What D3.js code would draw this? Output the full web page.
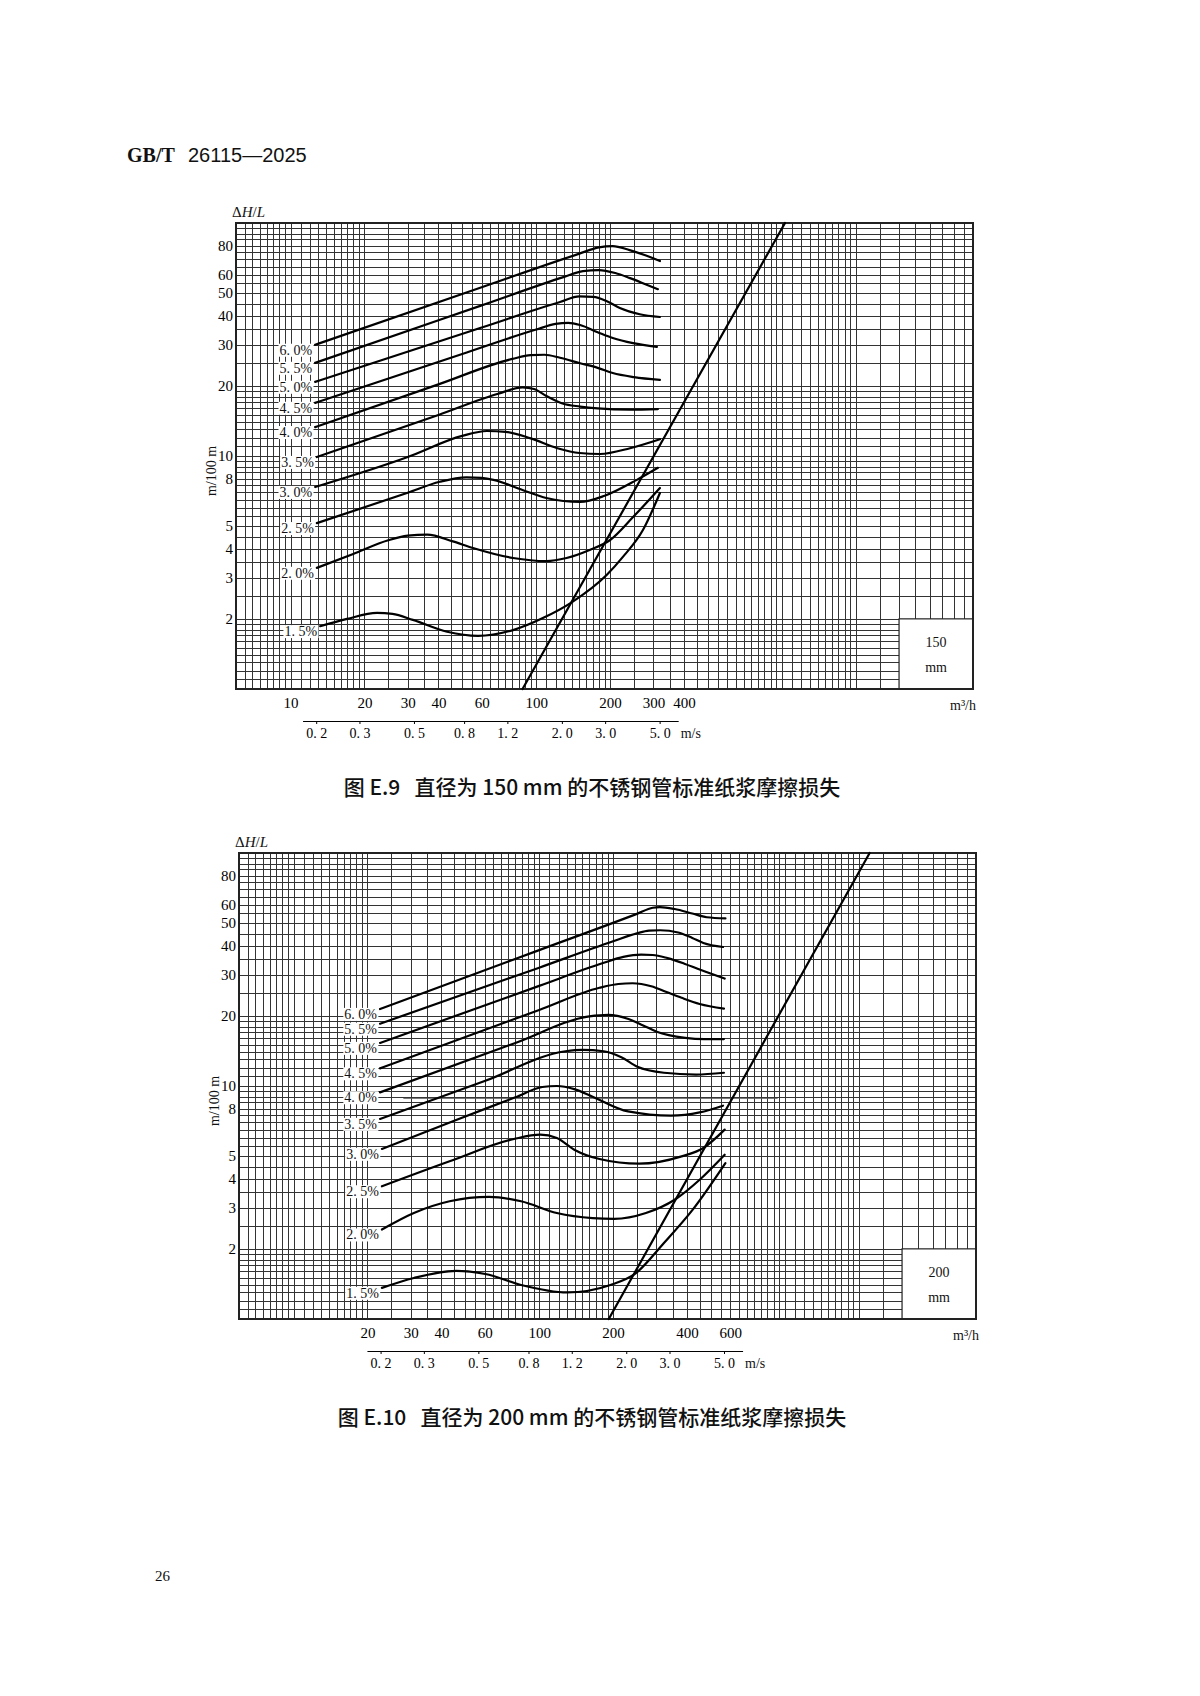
<!DOCTYPE html>
<html>
<meta http-equiv="content-type" content="text/html; charset=utf-8" />
<head>
    <title>不锈钢管标准纸浆摩擦损失</title>
</head>

<style>
body { margin: 0; background: #fff; }
.grid line { stroke: #333; stroke-width: 1; shape-rendering: crispEdges; }
.frame { fill: none; stroke: #222; stroke-width: 1.2; shape-rendering: crispEdges; }
.curve { fill: none; stroke: #000; stroke-width: 2.2; stroke-linejoin: round; stroke-linecap: round; }
.serif { font-family: "Liberation Serif", "DejaVu Serif", serif; fill: #111; }
</style>

<svg class="page" width="1200" height="1696"></svg>
<script src="https://d3js.org/d3.v7.min.js"></script>

<script type="text/javascript">
// ---- data ----
var flowDomain = [6, 6000];          // m3/h
var headDomain = [1, 100];           // m/100 m
var concentrations = [6.0, 5.5, 5.0, 4.5, 4.0, 3.5, 3.0, 2.5, 2.0, 1.5];
var headTickLabels = [2, 3, 4, 5, 8, 10, 20, 30, 40, 50, 60, 80];
var velocityTicks = [0.2, 0.3, 0.5, 0.8, 1.2, 2.0, 3.0, 5.0];
var velocityExtent = [0.176, 5.95];  // m/s, length of the velocity scale bar
var gridSteps = [[1, 2, 0.1], [2, 10, 0.5]]; // log paper: per decade from, to, step

// E.9  150 mm
var flowTicks150 = [10, 20, 30, 40, 60, 100, 200, 300, 400];
var curves150 = [
  [[12.6,30],[60,53],[150,73.9],[180,78.6],[205,79.6],[240,76.5],[280,72.5],[319,68.7]],
  [[12.6,25.1],[60,44.3],[130,58.7],[155,62.2],[180,62.8],[210,61],[241,58],[280,54.5],[313,52]],
  [[12.6,20.8],[60,35.6],[125,45.8],[150,48.4],[171,48.2],[195,46],[219,43.2],[264,40.6],[319,39.5]],
  [[12.6,16.9],[50,27.4],[100,34.9],[120,36.9],[135,37.3],[151,36.5],[178,34],[205,32.1],[248,30.5],[310,29.4]],
  [[12.6,13.3],[40,20.3],[80,26.1],[95,27.1],[108,27.2],[125,26.4],[151,25],[178,23.9],[205,22.7],[250,21.8],[319,21.2]],
  [[12.8,9.9],[40,15.0],[70,18.5],[88,19.7],[98,19.4],[110,18.1],[128,16.8],[151,16.3],[178,16.0],[240,15.8],[313,15.9]],
  [[12.6,7.36],[30,9.9],[50,12.2],[63,12.8],[75,12.7],[95,11.9],[122,10.8],[150,10.3],[182,10.2],[241,10.8],[319,11.8]],
  [[12.8,5.15],[30,6.95],[40.5,7.75],[52,8.1],[60,8.05],[67,7.9],[88,7.15],[110,6.6],[151,6.35],[190,6.75],[257,7.9],[313,8.9]],
  [[12.8,3.31],[18,3.8],[25,4.35],[30,4.55],[36,4.6],[45.8,4.3],[55.3,4.03],[80.5,3.65],[110,3.54],[133,3.65],[165,3.95],[200,4.36],[248,5.47],[319,7.29]],
  [[13.2,1.86],[17,2.0],[22.5,2.12],[26,2.1],[31.5,1.98],[43.4,1.76],[58,1.69],[80.5,1.79],[107,2.02],[140,2.36],[194,3.09],[225,3.68],[272,4.81],[319,6.94]]
];
var limitLine150 = [[88, 1], [1030, 100]];

// E.10  200 mm
var flowTicks200 = [20, 30, 40, 60, 100, 200, 400, 600];
var curves200 = [
  [[22.5,21.4],[100,38.3],[250,54.8],[290,58.2],[310,58.6],[356,57.5],[420,55],[481,53],[573,52.4]],
  [[22.5,18.5],[100,32.2],[200,41.8],[250,45.2],[280,46.4],[311,46.6],[368,45.6],[420,43.2],[466,41.1],[560,39.5]],
  [[22.5,15.3],[100,26.9],[182,33.7],[220,35.8],[260,36.6],[290,36.5],[333,35.4],[390,33.5],[450,31.6],[569,28.9]],
  [[22.5,11.9],[100,21.2],[176,26.4],[210,27.4],[240,27.6],[286,26.8],[330,25.3],[380,23.9],[450,22.5],[565,21.5]],
  [[22.5,9.39],[80,15.3],[160,19.9],[191,20.2],[231,19.4],[265,18.2],[301,17.1],[393,16.1],[470,15.9],[565,15.9]],
  [[22.5,7.22],[60,10.5],[128,14.1],[150,14.3],[183,14.1],[216,13.3],[251,12.1],[322,11.4],[435,11.2],[565,11.4]],
  [[22.9,5.37],[46.2,7.17],[80,8.94],[103,9.9],[118,10.0],[139,9.7],[165,9.0],[230,7.78],[344,7.46],[450,7.7],[560,8.23]],
  [[22.9,3.71],[43.2,4.75],[78.9,5.92],[101,6.18],[118,5.98],[139,5.33],[176,4.86],[255,4.64],[380,4.99],[466,5.42],[569,6.5]],
  [[22.9,2.42],[30.9,2.85],[43.2,3.2],[62.5,3.34],[84.4,3.2],[118,2.85],[165,2.71],[202,2.69],[272,2.85],[356,3.25],[450,3.96],[569,5.07]],
  [[22.9,1.36],[30.9,1.5],[46,1.61],[60.4,1.56],[84.4,1.4],[130,1.3],[195,1.4],[247,1.57],[322,2.12],[421,2.94],[573,4.67]]
];
var limitLine200 = [[192, 1], [2214, 100]];
var strayLine200 = [[28, 8.85], [935, 8.85]]; // faint printing artefact in the scan

// ---- layout ----
var width = 737, height = 466;
var charts = [
  {left: 236, top: 223, flowTicks: flowTicks150, curves: curves150, limit: limitLine150, stray: null,
   diameter: 0.150, sizeLabel: "150", caption: "图 E.9   直径为 150 mm 的不锈钢管标准纸浆摩擦损失", captionY: 795},
  {left: 239, top: 853, flowTicks: flowTicks200, curves: curves200, limit: limitLine200, stray: strayLine200,
   diameter: 0.200, sizeLabel: "200", caption: "图 E.10   直径为 200 mm 的不锈钢管标准纸浆摩擦损失", captionY: 1425}
];

var svg = d3.select(".page");

function gridValues(domain) {
  var vals = [];
  for (var d = Math.pow(10, Math.floor(Math.log10(domain[0]))); d < domain[1]; d *= 10) {
    gridSteps.forEach(function(s) {
      var n = Math.round((s[1] - s[0]) / s[2]);
      for (var k = 0; k <= n; k++) {
        var v = +(d * (s[0] + k * s[2])).toPrecision(6);
        if (v >= domain[0] && v <= domain[1] && vals.indexOf(v) < 0) vals.push(v);
      }
    });
  }
  return vals;
}

function pct(c) { return c.toFixed(1).replace(".", ". ") + "%"; }

charts.forEach(function(cfg) {
  var x = d3.scaleLog().domain(flowDomain).range([0, width]);
  var y = d3.scaleLog().domain(headDomain).range([height, 0]);

  var chart = svg.append("g")
    .attr("transform", "translate(" + cfg.left + "," + cfg.top + ")");

  // log-log paper
  chart.append("g")
    .attr("class", "grid")
    .attr("transform", "translate(0," + height + ")")
    .call(d3.axisBottom(x).tickValues(gridValues(flowDomain)).tickSize(-height).tickFormat(""))
    .call(function(g) { g.select(".domain").remove(); });
  chart.append("g")
    .attr("class", "grid")
    .call(d3.axisLeft(y).tickValues(gridValues(headDomain)).tickSize(-width).tickFormat(""))
    .call(function(g) { g.select(".domain").remove(); });

  // diameter box in the lower right corner
  var bx = x(3000), by = y(2);
  chart.append("rect")
    .attr("x", bx).attr("y", by)
    .attr("width", width - bx).attr("height", height - by)
    .attr("fill", "#fff").attr("stroke", "#222").attr("stroke-width", 1.2);
  chart.append("text").attr("class", "serif")
    .attr("x", (bx + width) / 2).attr("y", height - 47).attr("dy", "0.35em")
    .attr("text-anchor", "middle").attr("font-size", 14)
    .text(cfg.sizeLabel);
  chart.append("text").attr("class", "serif")
    .attr("x", (bx + width) / 2).attr("y", height - 22).attr("dy", "0.35em")
    .attr("text-anchor", "middle").attr("font-size", 14)
    .text("mm");

  chart.append("rect")
    .attr("class", "frame")
    .attr("width", width).attr("height", height);

  // axis numbers
  chart.append("g")
    .attr("transform", "translate(0," + height + ")")
    .call(d3.axisBottom(x).tickValues(cfg.flowTicks).tickSize(0).tickPadding(8).tickFormat(d3.format("d")))
    .call(function(g) { g.select(".domain").remove(); })
    .attr("font-family", "Liberation Serif, serif").attr("font-size", 15);
  chart.append("g")
    .call(d3.axisLeft(y).tickValues(headTickLabels).tickSize(0).tickPadding(3).tickFormat(d3.format("d")))
    .call(function(g) { g.select(".domain").remove(); })
    .attr("font-family", "Liberation Serif, serif").attr("font-size", 15);

  // velocity bar under the flow axis
  var area = Math.PI * cfg.diameter * cfg.diameter / 4;
  var v = d3.scaleLog().domain(velocityExtent)
    .range(velocityExtent.map(function(d) { return x(d * area * 3600); }));
  var vAxis = chart.append("g")
    .attr("transform", "translate(0," + (height + 32) + ")")
    .call(d3.axisBottom(v).tickValues(velocityTicks).tickSize(3).tickSizeOuter(0).tickPadding(4.5)
      .tickFormat(function(d) { return d.toFixed(1).replace(".", ". "); }))
    .attr("font-family", "Liberation Serif, serif").attr("font-size", 14);
  vAxis.selectAll("text").style("white-space", "pre");
  chart.append("text").attr("class", "serif")
    .attr("x", v(5) + 21).attr("y", height + 32 + 7.5).attr("dy", "0.71em")
    .attr("font-size", 14).text("m/s");

  // axis titles
  var dh = chart.append("text").attr("class", "serif")
    .attr("x", -4).attr("y", -6).attr("font-size", 15).attr("fill", "#333");
  dh.append("tspan").text("Δ");
  dh.append("tspan").attr("font-style", "italic").text("H");
  dh.append("tspan").text("/");
  dh.append("tspan").attr("font-style", "italic").text("L");

  chart.append("text").attr("class", "serif")
    .attr("transform", "translate(-25," + 248 + ") rotate(-90)")
    .attr("text-anchor", "middle").attr("dy", "0.35em").attr("font-size", 14)
    .text("m/100 m");

  chart.append("text").attr("class", "serif")
    .attr("x", width + 3).attr("y", height + 16).attr("dy", "0.35em")
    .attr("text-anchor", "end").attr("font-size", 14)
    .text("m³/h");

  // curves
  var line = d3.line()
    .x(function(d) { return x(d[0]); })
    .y(function(d) { return y(d[1]); })
    .curve(d3.curveMonotoneX);

  if (cfg.stray) {
    chart.append("path")
      .attr("d", d3.line().x(function(d) { return x(d[0]); }).y(function(d) { return y(d[1]); })(cfg.stray))
      .attr("fill", "none").attr("stroke", "#555").attr("stroke-width", 0.9);
  }

  chart.selectAll(".curve")
    .data(cfg.curves).enter()
    .append("path")
    .attr("class", "curve")
    .attr("d", line);

  chart.append("path")
    .attr("class", "curve")
    .attr("d", d3.line().x(function(d) { return x(d[0]); }).y(function(d) { return y(d[1]); })(cfg.limit));

  // concentration labels with white ground
  cfg.curves.forEach(function(c, i) {
    var lg = chart.append("g");
    var t = lg.append("text").attr("class", "serif")
      .attr("x", x(c[0][0]) - 3).attr("y", y(c[0][1]) + 5).attr("dy", "0.35em")
      .attr("text-anchor", "end").attr("font-size", 14)
      .style("white-space", "pre")
      .text(pct(concentrations[i]));
    var bb = t.node().getBBox();
    lg.insert("rect", "text")
      .attr("x", bb.x - 1).attr("y", bb.y + 1)
      .attr("width", bb.width + 2).attr("height", bb.height - 2)
      .attr("fill", "#fff");
  });

  // caption
  svg.append("text")
    .attr("x", 592).attr("y", cfg.captionY)
    .attr("text-anchor", "middle")
    .attr("font-family", "Noto Sans CJK SC, sans-serif")
    .attr("font-size", 21).attr("font-weight", 500).attr("fill", "#111")
    .style("white-space", "pre")
    .text(cfg.caption);
});

// page header and number
var head = svg.append("text").attr("y", 162).attr("font-size", 20).attr("fill", "#111");
head.append("tspan").attr("x", 127)
  .attr("font-family", "Liberation Serif, serif").attr("font-weight", "bold").text("GB/T");
head.append("tspan").attr("x", 188)
  .attr("font-family", "Liberation Sans, sans-serif").text("26115—2025");

svg.append("text").attr("class", "serif")
  .attr("x", 155).attr("y", 1581).attr("font-size", 15)
  .text("26");
</script>

</html>
